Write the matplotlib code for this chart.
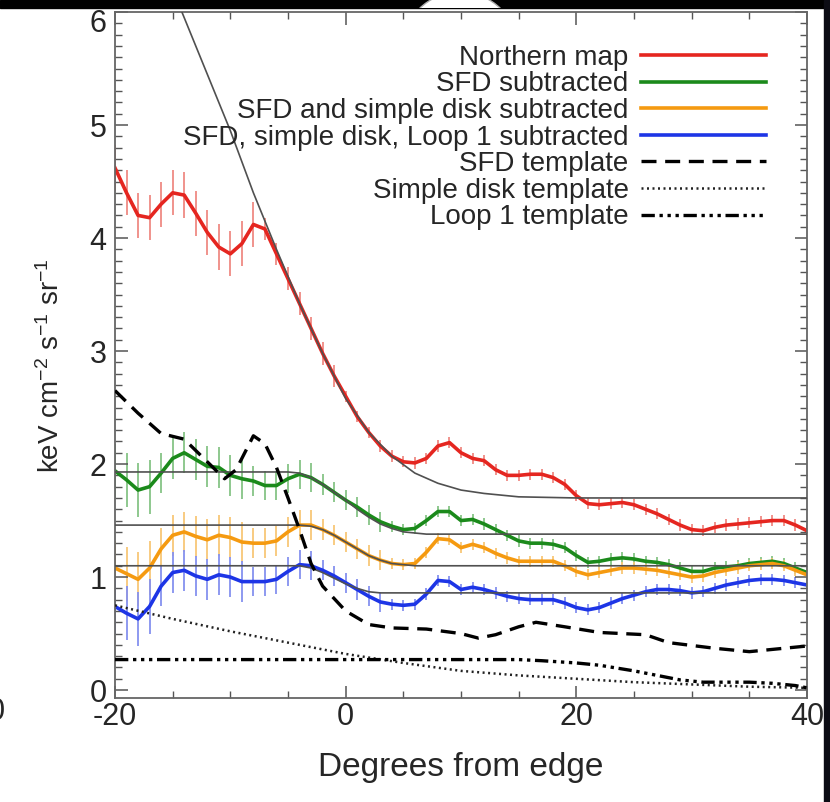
import numpy as np
import matplotlib
matplotlib.use("Agg")
import matplotlib.pyplot as plt
from matplotlib.ticker import MultipleLocator
from matplotlib.patches import Rectangle, Circle
import matplotlib.transforms as mtransforms

plt.rcParams['font.family'] = ['Liberation Sans', 'DejaVu Sans']
plt.rcParams['mathtext.fontset'] = 'custom'
plt.rcParams['mathtext.rm'] = 'Liberation Sans'
plt.rcParams['mathtext.it'] = 'Liberation Sans'
plt.rcParams['axes.unicode_minus'] = False

# degrees from edge, 1 deg steps
degrees = list(range(-20, 41))

northern = [4.62, 4.40, 4.20, 4.18, 4.30, 4.40, 4.38, 4.22, 4.05, 3.92,
            3.86, 3.95, 4.12, 4.08, 3.86, 3.64, 3.42, 3.20, 2.98, 2.78,
            2.60, 2.42, 2.28, 2.16, 2.07, 2.02, 2.01, 2.05, 2.16, 2.19,
            2.10, 2.05, 2.03, 1.95, 1.90, 1.90, 1.91, 1.91, 1.88, 1.82,
            1.72, 1.65, 1.64, 1.65, 1.66, 1.64, 1.60, 1.56, 1.51, 1.46,
            1.42, 1.41, 1.44, 1.46, 1.47, 1.48, 1.49, 1.50, 1.50, 1.46, 1.41]
sfd_sub = [1.94, 1.86, 1.77, 1.80, 1.92, 2.05, 2.10, 2.04, 1.98, 1.97,
           1.90, 1.87, 1.85, 1.81, 1.81, 1.87, 1.91, 1.88, 1.82, 1.75,
           1.68, 1.62, 1.55, 1.49, 1.45, 1.42, 1.43, 1.50, 1.58, 1.58,
           1.50, 1.51, 1.47, 1.42, 1.37, 1.32, 1.30, 1.30, 1.29, 1.26,
           1.19, 1.13, 1.14, 1.16, 1.17, 1.16, 1.14, 1.13, 1.11, 1.08,
           1.05, 1.05, 1.08, 1.09, 1.10, 1.12, 1.13, 1.14, 1.12, 1.08, 1.04]
disk_sub = [1.08, 1.03, 0.98, 1.08, 1.25, 1.37, 1.40, 1.36, 1.33, 1.37,
            1.35, 1.31, 1.30, 1.30, 1.32, 1.40, 1.46, 1.46, 1.42, 1.37,
            1.31, 1.25, 1.19, 1.15, 1.12, 1.11, 1.12, 1.22, 1.34, 1.33,
            1.26, 1.29, 1.26, 1.21, 1.17, 1.14, 1.14, 1.14, 1.14, 1.10,
            1.05, 1.02, 1.04, 1.06, 1.08, 1.08, 1.07, 1.06, 1.04, 1.02,
            1.00, 1.01, 1.04, 1.06, 1.08, 1.10, 1.11, 1.12, 1.10, 1.06, 1.02]
loop_sub = [0.74, 0.68, 0.63, 0.74, 0.92, 1.04, 1.06, 1.01, 0.98, 1.02,
            1.00, 0.96, 0.96, 0.96, 0.98, 1.05, 1.11, 1.10, 1.06, 1.01,
            0.95, 0.89, 0.83, 0.78, 0.76, 0.75, 0.76, 0.85, 0.97, 0.96,
            0.89, 0.91, 0.89, 0.86, 0.83, 0.81, 0.80, 0.80, 0.80, 0.77,
            0.73, 0.71, 0.73, 0.77, 0.81, 0.84, 0.87, 0.89, 0.89, 0.88,
            0.86, 0.87, 0.90, 0.93, 0.95, 0.97, 0.98, 0.98, 0.97, 0.95, 0.93]

err_northern = [0.20] * 13 + [0.10] * 7 + [0.05] * 41
err_sub = [0.24] * 4 + [0.18] * 8 + [0.13] * 6 + [0.09] * 6 + [0.05] * 37

# templates
sfd_x = [-20, -18, -16, -14, -12, -10.5, -9.5, -8, -7, -6, -5, -4, -3, -2, 0, 2,
         4, 7, 10, 11.5, 13, 15, 16.5, 19, 22, 26, 28, 32, 35, 38, 40]
sfd_tmpl = [2.65, 2.45, 2.27, 2.22, 2.02, 1.87, 1.95, 2.25, 2.18, 1.97, 1.70, 1.42,
            1.12, 0.92, 0.70, 0.58, 0.55, 0.54, 0.50, 0.46, 0.49, 0.56, 0.60, 0.56,
            0.51, 0.49, 0.42, 0.37, 0.34, 0.37, 0.39]
disk_x = [-20, -15, -10, -5, 0, 5, 10, 15, 20, 25, 30, 35, 40]
disk_tmpl = [0.75, 0.63, 0.52, 0.42, 0.32, 0.24, 0.17, 0.13, 0.10, 0.07, 0.05, 0.03, 0.02]
loop_x = [-20, 15, 17, 20, 22, 25, 27, 29, 31, 35, 37, 39, 40]
loop_tmpl = [0.27, 0.27, 0.26, 0.24, 0.22, 0.17, 0.13, 0.09, 0.07, 0.07, 0.06, 0.04, 0.02]

# fitted profiles
fit_n_x = [-15, -14, -12, -10, -8, -6, -4, -2, 0, 2, 4, 6, 8, 10, 12, 15, 20, 40]
fit_n = [6.20, 5.95, 5.45, 4.95, 4.40, 3.90, 3.42, 2.98, 2.58, 2.28, 2.07, 1.92,
         1.83, 1.77, 1.74, 1.71, 1.70, 1.70]
fit_s_x = [-20, -5, -4, -3, -2, -1, 0, 1, 2, 3, 4, 5, 6, 7, 40]
fit_sfd = [1.93, 1.93, 1.92, 1.88, 1.82, 1.75, 1.68, 1.60, 1.53, 1.47, 1.43, 1.40,
           1.39, 1.38, 1.38]
fit_disk = [1.46, 1.46, 1.46, 1.45, 1.42, 1.37, 1.31, 1.25, 1.19, 1.15, 1.12, 1.11,
            1.10, 1.10, 1.10]
fit_loop = [1.10, 1.10, 1.10, 1.08, 1.04, 0.99, 0.94, 0.90, 0.87, 0.86, 0.86, 0.86,
            0.86, 0.86, 0.86]

fig = plt.figure(figsize=(8.3, 8.02), dpi=100)
ax = fig.add_axes([115 / 830, 104 / 802, 692 / 830, 686 / 802])

series = [
    (northern, err_northern, '#e52620', '#ef8a84', 'Northern map'),
    (sfd_sub, err_sub, '#1b8a1b', '#86c486', 'SFD subtracted'),
    (disk_sub, err_sub, '#f59a10', '#f8c777', 'SFD and simple disk subtracted'),
    (loop_sub, err_sub, '#1d35e6', '#8591ef', 'SFD, simple disk, Loop 1 subtracted'),
]
handles = []
for vals, err, col, ecol, lab in series:
    ax.errorbar(degrees, vals, yerr=err, fmt='none', ecolor=ecol, elinewidth=1.3,
                capsize=0, zorder=1)
    ln, = ax.plot(degrees, vals, color=col, lw=2.6, label=lab, zorder=2)
    handles.append(ln)

for fx, fy in [(fit_n_x, fit_n), (fit_s_x, fit_sfd), (fit_s_x, fit_disk), (fit_s_x, fit_loop)]:
    ax.plot(fx, fy, color='#505050', lw=1.2, zorder=3)

h, = ax.plot(sfd_x, sfd_tmpl, color='black', lw=2.4, ls=(0, (4.5, 2.6)),
             label='SFD template', zorder=4)
handles.append(h)
h, = ax.plot(disk_x, disk_tmpl, color='#222222', lw=1.8, ls=(0, (0.8, 1.4)),
             label='Simple disk template', zorder=4)
handles.append(h)
h, = ax.plot(loop_x, loop_tmpl, color='black', lw=2.4,
             ls=(0, (4, 1.4, 1, 1.4, 1, 1.4, 1, 1.4)),
             label='Loop 1 template', zorder=4)
handles.append(h)

ax.set_xlim(-20, 40)
ax.set_ylim(-0.07, 6.0)
ax.xaxis.set_major_locator(MultipleLocator(20))
ax.xaxis.set_minor_locator(MultipleLocator(5))
ax.yaxis.set_major_locator(MultipleLocator(1))
ax.yaxis.set_minor_locator(MultipleLocator(0.1))
ax.tick_params(which='both', direction='in', top=True, right=True, color='#555555',
               labelsize=22, labelcolor='#262626')
ax.tick_params(axis='x', pad=3)
ax.tick_params(axis='y', pad=6)
ax.tick_params(which='major', length=9, width=1.1)
ax.tick_params(which='minor', length=5, width=1.0)
for s in ax.spines.values():
    s.set_color('#666666')
    s.set_linewidth(1.3)

fig.canvas.draw()
# last x label sits slightly right, top y label slightly low in the original
lab40 = ax.get_xticklabels()[-1]
lab40.set_transform(lab40.get_transform() +
                    mtransforms.ScaledTranslation(6 / 100, 0, fig.dpi_scale_trans))
for lab in ax.get_yticklabels():
    if lab.get_text() == '6':
        lab.set_transform(lab.get_transform() +
                          mtransforms.ScaledTranslation(0, -8 / 100, fig.dpi_scale_trans))

ax.set_xlabel('Degrees from edge', fontsize=24, color='#262626', labelpad=14)
ax.set_ylabel(r'keV cm$^{-2}$ s$^{-1}$ sr$^{-1}$', fontsize=20, color='#262626')
ax.yaxis.set_label_coords(-0.072, 0.484)

leg = ax.legend(handles=handles, loc='upper right', bbox_to_anchor=(0.941, 0.952),
                frameon=False, markerfirst=False, fontsize=20, handlelength=4.5,
                handletextpad=0.45, labelspacing=0.02, borderpad=0, borderaxespad=0)
for t in leg.get_texts():
    t.set_color('#262626')

# screenshot borders
fig.add_artist(Rectangle((0, 1 - 8 / 802), 1, 8 / 802, transform=fig.transFigure,
                         color='black', zorder=10))
fig.add_artist(Rectangle((824 / 830, 0), 6 / 830, 1, transform=fig.transFigure,
                         color='#0c0c14', zorder=10))
band = Rectangle((0, 1 - 8 / 802), 1, 8 / 802, transform=fig.transFigure)
dome = Circle((460, 802 - 50), 58, transform=mtransforms.IdentityTransform(),
              facecolor='white', edgecolor='#aaaaaa', lw=1, zorder=11)
fig.add_artist(dome)
dome.set_clip_path(band)
fig.text(-4 / 830, 1 - 712 / 802, '0', fontsize=22, color='#262626',
         ha='center', va='center')

fig.savefig('out.png', dpi=100)
